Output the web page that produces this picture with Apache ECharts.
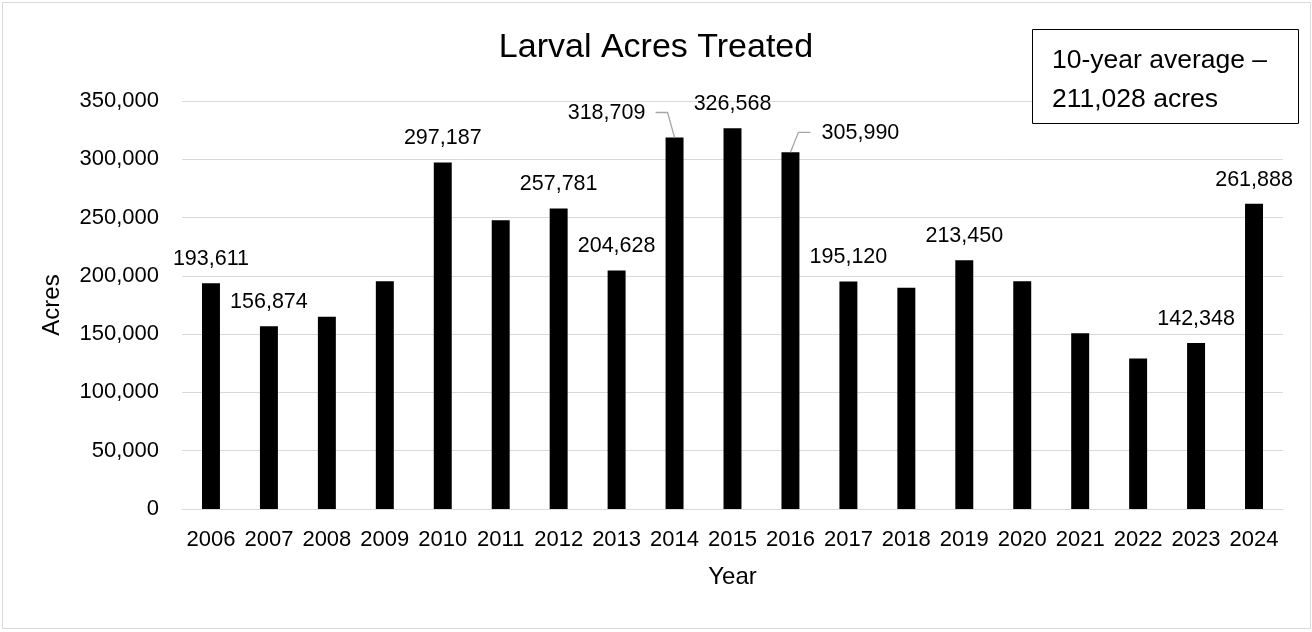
<!DOCTYPE html>
<html>
<head>
<meta charset="utf-8">
<script src="https://cdn.jsdelivr.net/npm/echarts@6/dist/echarts.min.js"></script>
<style>
  html, body { margin: 0; padding: 0; background: #fff; }
  #chart { width: 1312px; height: 632px; }
</style>
</head>
<body>
<div id="chart"></div>
<script>
// ---- data ----
const years = ['2006','2007','2008','2009','2010','2011','2012','2013','2014','2015','2016','2017','2018','2019','2020','2021','2022','2023','2024'];
const acres = [193611, 156874, 165000, 195400, 297187, 247700, 257781, 204628, 318709, 326568, 305990, 195120, 189900, 213450, 195400, 150800, 129000, 142348, 261888];
const labeledYears = ['2006','2007','2010','2012','2013','2014','2015','2016','2017','2019','2023','2024'];
const leaderYears = ['2014', '2016'];
const yTicks = [0, 50000, 100000, 150000, 200000, 250000, 300000, 350000];
const titleText = 'Larval Acres Treated';
const noteLines = ['10-year average \u2013', '211,028 acres'];

const FONT = '"Liberation Sans", Arial, sans-serif';
const fmt = v => v.toLocaleString('en-US');

// label placement tweaks for moved labels (pixel offsets, style only)
const labelOffsets = { '2014': [-68, 0], '2016': [70, 5] };
const leaderSide = { '2014': -1, '2016': 1 };

const barData = acres.map((v, i) => {
  const y = years[i];
  const item = { value: v };
  if (labeledYears.indexOf(y) >= 0) {
    item.label = { show: true };
    if (labelOffsets[y]) item.label.offset = labelOffsets[y];
  } else {
    item.label = { show: false };
  }
  return item;
});

const leaderData = leaderYears.map(y => {
  const i = years.indexOf(y);
  return [i, acres[i], leaderSide[y]];
});

const chart = echarts.init(document.getElementById('chart'), null, { renderer: 'canvas' });
chart.setOption({
  animation: false,
  backgroundColor: '#fff',
  title: {
    text: titleText,
    left: 'center',
    top: 26,
    textStyle: { fontFamily: FONT, fontSize: 34, fontWeight: 'normal', color: '#000' }
  },
  grid: { left: 182, right: 29, top: 101, bottom: 123, containLabel: false },
  xAxis: {
    type: 'category',
    data: years,
    name: 'Year',
    nameLocation: 'middle',
    nameGap: 56,
    nameTextStyle: { fontFamily: FONT, fontSize: 24, color: '#000' },
    axisLine: { show: true, lineStyle: { color: '#d9d9d9', width: 1 } },
    axisTick: { show: false },
    axisLabel: { fontFamily: FONT, fontSize: 22, color: '#000', margin: 20, interval: 0 }
  },
  yAxis: {
    type: 'value',
    min: yTicks[0],
    max: yTicks[yTicks.length - 1],
    interval: yTicks[1] - yTicks[0],
    name: 'Acres',
    nameLocation: 'middle',
    nameGap: 118,
    nameRotate: 90,
    nameTextStyle: { fontFamily: FONT, fontSize: 24, color: '#000' },
    axisLine: { show: false },
    axisTick: { show: false },
    splitLine: { show: true, lineStyle: { color: '#d9d9d9', width: 1 } },
    axisLabel: { fontFamily: FONT, fontSize: 22, color: '#000', margin: 23, formatter: v => fmt(v) }
  },
  series: [
    {
      type: 'bar',
      data: barData,
      barWidth: '31%',
      itemStyle: { color: '#000' },
      label: {
        position: 'top',
        distance: 13,
        fontFamily: FONT,
        fontSize: 21.5,
        color: '#000',
        formatter: p => fmt(p.value)
      },
      z: 2
    },
    {
      type: 'custom',
      data: leaderData,
      silent: true,
      z: 3,
      renderItem: function (params, api) {
        const p = api.coord([api.value(0), api.value(1)]);
        const s = api.value(2);
        const pts = s < 0
          ? [[p[0] - 19, p[1] - 25], [p[0] - 7, p[1] - 25], [p[0], p[1]]]
          : [[p[0] + 20, p[1] - 20], [p[0] + 8, p[1] - 20], [p[0], p[1]]];
        return {
          type: 'polyline',
          shape: { points: pts },
          style: { stroke: '#a6a6a6', lineWidth: 1.3, fill: null }
        };
      }
    }
  ],
  graphic: [
    {
      type: 'rect',
      shape: { x: 2.5, y: 2.5, width: 1308, height: 626 },
      style: { stroke: '#d9d9d9', lineWidth: 1, fill: null },
      z: -10
    },
    {
      type: 'rect',
      shape: { x: 1032.5, y: 29.5, width: 266, height: 94 },
      style: { stroke: '#000', lineWidth: 1, fill: '#fff' },
      z: 100,
      zlevel: 1
    },
    {
      type: 'text',
      x: 1052,
      y: 41,
      z: 101,
      zlevel: 1,
      style: { text: noteLines.join('\n'), fontFamily: FONT, fontSize: 26.5, lineHeight: 39, fill: '#000' }
    }
  ]
});
</script>
</body>
</html>
